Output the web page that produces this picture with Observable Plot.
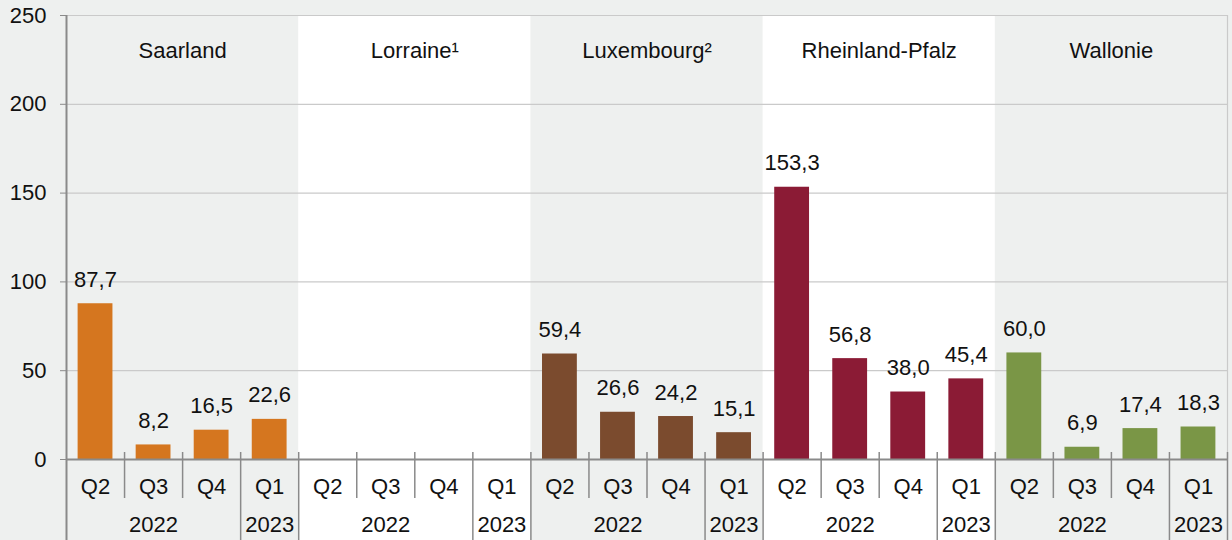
<!DOCTYPE html>
<html>
<head>
<meta charset="utf-8">
<script src="https://cdn.jsdelivr.net/npm/d3@7"></script>
<script src="https://cdn.jsdelivr.net/npm/@observablehq/plot@0.6"></script>
<style>
  html, body { margin: 0; padding: 0; background: #eef0ef; }
  #chart svg { display: block; }
</style>
</head>
<body>
<div id="chart"></div>
<script>
const regions = ["Saarland", "Lorraine¹", "Luxembourg²", "Rheinland-Pfalz", "Wallonie"];
const quarters = ["Q2", "Q3", "Q4", "Q1"];
const years = ["2022", "2022", "2022", "2023"];
const saarland = [87.7, 8.2, 16.5, 22.6];
const lorraine = [null, null, null, null];
const luxembourg = [59.4, 26.6, 24.2, 15.1];
const rheinlandPfalz = [153.3, 56.8, 38.0, 45.4];
const wallonie = [60.0, 6.9, 17.4, 18.3];
const yTicks = [0, 50, 100, 150, 200, 250];
const regionColors = ["#d5761f", "#d5761f", "#7b4b2e", "#8b1b35", "#7a9646"];
const whiteRegions = ["Lorraine¹", "Rheinland-Pfalz"];

const seriesList = [saarland, lorraine, luxembourg, rheinlandPfalz, wallonie];
const nQ = quarters.length;
const rows = [];
regions.forEach((region, ri) => {
  quarters.forEach((q, qi) => {
    rows.push({region, ri, qi, slot: ri * nQ + qi, quarter: q, year: years[qi], value: seriesList[ri][qi]});
  });
});
const bars = rows.filter(d => d.value != null);

// separators between slots
const shortSeps = [], longSeps = [];
for (let i = 1; i < rows.length; i++) {
  const a = rows[i - 1], b = rows[i];
  if (a.region !== b.region || a.year !== b.year) longSeps.push(i); else shortSeps.push(i);
}
longSeps.push(rows.length);

// year groups
const yearGroups = [];
rows.forEach(d => {
  const last = yearGroups[yearGroups.length - 1];
  if (last && last.region === d.region && last.year === d.year) last.end = d.slot + 1;
  else yearGroups.push({region: d.region, year: d.year, start: d.slot, end: d.slot + 1});
});

const fmt = v => v.toFixed(1).replace(".", ",");
const axisColor = "#8a8a8a";
const gridColor = "#cacaca";
const fs = 22;

const chart = Plot.plot({
  width: 1232,
  height: 540,
  marginLeft: 66,
  marginRight: 5,
  marginTop: 15,
  marginBottom: 81,
  style: {fontFamily: "'Liberation Sans', Arial, sans-serif", background: "transparent", overflow: "visible", color: "#111"},
  x: {domain: [0, rows.length], axis: null},
  y: {domain: [0, 250], axis: null},
  color: {domain: regions, range: regionColors},
  marks: [
    Plot.rect(regions.map((r, i) => ({r, i})).filter(d => whiteRegions.includes(d.r)), {
      x1: d => d.i * nQ, x2: d => d.i * nQ + nQ, fill: "white", insetBottom: -81
    }),
    Plot.ruleY(yTicks.filter(t => t > 0), {stroke: gridColor, strokeWidth: 1.2}),
    Plot.ruleX([rows.length], {stroke: gridColor, strokeWidth: 1.2}),
    Plot.axisY({ticks: yTicks, tickSize: 6, tickPadding: 14, fontSize: fs, stroke: axisColor, fill: "#111", label: null, tickFormat: d => String(d)}),
    Plot.rectY(bars, {x1: d => d.slot + 0.2, x2: d => d.slot + 0.8, y: "value", fill: "region"}),
    Plot.text(bars, {x: d => d.slot + 0.5, y: "value", text: d => fmt(d.value), dy: -24, fontSize: fs, fill: "#111"}),
    Plot.ruleY([0], {stroke: axisColor, strokeWidth: 2}),
    Plot.ruleX([0], {stroke: axisColor, strokeWidth: 2, insetBottom: -81}),
    Plot.ruleX(shortSeps, {stroke: axisColor, strokeWidth: 1.5, insetTop: 437, insetBottom: -39}),
    Plot.ruleX(longSeps, {stroke: axisColor, strokeWidth: 1.5, insetTop: 437, insetBottom: -81}),
    Plot.text(rows, {x: d => d.slot + 0.5, y: 0, text: "quarter", dy: 27, fontSize: fs, fill: "#111"}),
    Plot.text(yearGroups, {x: d => (d.start + d.end) / 2, y: 0, text: "year", dy: 65, fontSize: fs, fill: "#111"}),
    Plot.text(regions, {x: (d, i) => i * nQ + nQ / 2, y: () => 250, text: d => d, dy: 35, fontSize: fs, fill: "#111"})
  ]
});
document.getElementById("chart").appendChild(chart);
</script>
</body>
</html>
